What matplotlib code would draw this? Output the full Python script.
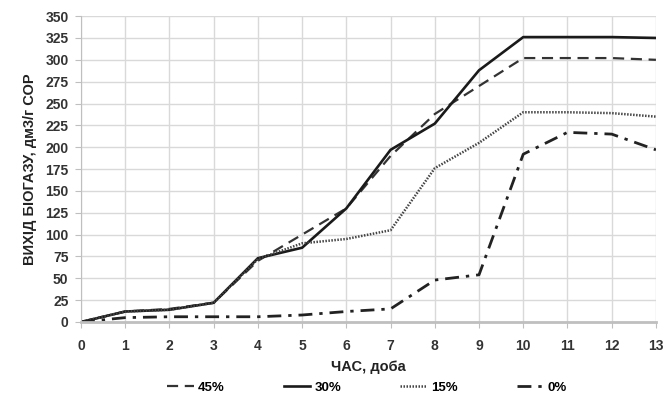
import matplotlib.pyplot as plt
import numpy as np

plt.rcParams['font.family'] = ['Liberation Sans', 'DejaVu Sans']

days = np.arange(0, 14)
v45 = [0, 12, 15, 22, 70, 100, 130, 190, 238, 270, 302, 302, 302, 300]
v30 = [0, 12, 14, 22, 73, 85, 130, 197, 227, 288, 326, 326, 326, 325]
v15 = [0, 12, 14, 22, 72, 90, 95, 105, 176, 205, 240, 240, 239, 235]
v0 = [0, 5, 6, 6, 6, 8, 12, 15, 48, 54, 192, 217, 215, 197]
labels = ['45%', '30%', '15%', '0%']

fig = plt.figure(figsize=(6.67, 4.03), dpi=100)
ax = fig.add_axes([0.1214, 0.201, 0.862, 0.759])

ax.plot(days, v45, color='#333333', lw=1.6, ls=(0, (5, 3)), label=labels[0])
ax.plot(days, v30, color='#1a1a1a', lw=1.9, ls='-', label=labels[1])
ax.plot(days, v15, color='#444444', lw=1.8, ls=(0, (0.6, 0.6)), label=labels[2])
ax.plot(days, v0, color='#222222', lw=2.0, ls=(0, (5, 2.5, 1.2, 2.5)), label=labels[3])

ax.set_xlim(0, 13)
ax.set_ylim(0, 350)
ax.set_xticks(days)
ax.set_yticks(np.arange(0, 351, 25))
ax.grid(True, color='#d9d9d9', lw=1.0)
ax.set_axisbelow(True)
for s in ['top', 'right']:
    ax.spines[s].set_visible(False)
ax.spines['left'].set_color('#bfbfbf')
ax.spines['bottom'].set_color('#bfbfbf')
ax.spines['bottom'].set_linewidth(2)
ax.tick_params(axis='both', colors='#bfbfbf', length=4, labelsize=10,
               labelcolor='#333333')
ax.tick_params(axis='x', pad=8)
ax.tick_params(axis='y', pad=5)
for t in ax.get_xticklabels() + ax.get_yticklabels():
    t.set_fontweight('bold')

ax.set_xlabel('ЧАС, доба', fontsize=10.5, fontweight='bold', color='#222222', labelpad=5)
ax.set_ylabel('ВИХІД БІОГАЗУ, дм3/г СОР', fontsize=10.5, fontweight='bold', color='#222222', labelpad=6)

fig.legend(loc='center', bbox_to_anchor=(0.55, 0.038), ncol=4, frameon=False,
           handlelength=2.0, handletextpad=0.3, columnspacing=4.5,
           prop={'weight': 'bold', 'size': 9.5})

fig.savefig('out.png', dpi=100)
